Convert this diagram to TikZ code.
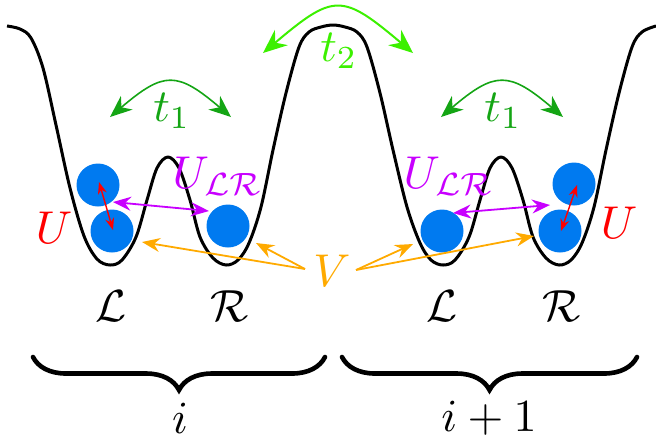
\documentclass[tikz,border=0pt]{standalone}
\usetikzlibrary{arrows.meta,decorations.pathreplacing}
\definecolor{ballblue}{RGB}{0,122,240}
\definecolor{uRed}{RGB}{255,0,0}
\definecolor{uPurple}{RGB}{200,0,255}
\definecolor{tOneGreen}{RGB}{20,165,20}
\definecolor{tTwoGreen}{RGB}{60,240,0}
\definecolor{vOrange}{RGB}{255,170,0}
\newcommand\biglbl[1]{\scalebox{2.3}{#1}}
\newcommand\sitelbl[1]{\scalebox{2.25}{#1}}
\begin{document}
\begin{tikzpicture}[x=0.5pt,y=-0.5pt,
  ball/.style={circle,fill=ballblue,inner sep=0pt,minimum size=21.5pt},
  lab/.style={inner sep=0pt},
  potential/.style={line width=1.5pt,line join=round},
  hopone/.style={draw=tOneGreen,line width=0.8pt,{Stealth[length=11pt,width=9pt,inset=3.5pt]}-{Stealth[length=11pt,width=9pt,inset=3.5pt]}},
  hoptwo/.style={draw=tTwoGreen,line width=1pt,{Stealth[length=12pt,width=10pt,inset=4pt]}-{Stealth[length=12pt,width=10pt,inset=4pt]}},
  onsite/.style={draw=uRed,line width=0.7pt,{Stealth[length=6pt,width=4.5pt,inset=2pt]}-{Stealth[length=6pt,width=4.5pt,inset=2pt]}},
  intra/.style={draw=uPurple,line width=0.9pt,{Stealth[length=9pt,width=7pt,inset=3pt]}-{Stealth[length=9pt,width=7pt,inset=3pt]}},
  inter/.style={draw=vOrange,line width=0.9pt,-{Stealth[length=9pt,width=7pt,inset=3pt]}},
  bracestyle/.style={line width=2.3pt,line cap=round,decorate,decoration={brace,mirror,amplitude=16.5pt}}
]
\useasboundingbox (0,0) rectangle (656,441);

% potential landscape
\draw[potential] plot[smooth,tension=0.55] coordinates {
 (7,26) (20,29) (31,38) (43,68) (56,125) (70,188) (84,236) (97,259) (110,265)
 (122,260) (136,237) (147,200) (157,168) (168,157) (179,168) (190,200) (200,237) (213,258) (226,265)
 (238,260) (249,243) (261,207) (273,150) (286,93) (299,47) (309,32) (321,27) (333,25)
 (345,27) (357,32) (367,47) (380,93) (393,150) (407,207) (420,243) (431,260) (443,265)
 (455,260) (469,237) (480,200) (490,168) (501,157) (512,168) (523,200) (533,237) (546,258) (559,265)
 (571,260) (582,243) (594,207) (606,150) (619,93) (632,47) (642,32) (656,26)};

% particles
\node[ball] (la) at (98,185) {};
\node[ball] (lb) at (112,231) {};
\node[ball] (lc) at (228,226) {};
\node[ball] (ra) at (442,231) {};
\node[ball] (rb) at (574,184) {};
\node[ball] (rc) at (560,231) {};

% labels
\node[lab,text=tOneGreen] (t1l) at (172,111) {\biglbl{$t_1$}};
\node[lab,text=tOneGreen] (t1r) at (503,111) {\biglbl{$t_1$}};
\node[lab,text=tTwoGreen] (t2) at (339,51) {\biglbl{$t_2$}};
\node[lab,text=uRed] (ul) at (54,228) {\biglbl{$U$}};
\node[lab,text=uRed] (ur) at (619,223) {\biglbl{$U$}};
\node[lab,text=uPurple] (ulrl) at (218,176) {\biglbl{$U_{\mathcal{L}\mathcal{R}}$}};
\node[lab,text=uPurple] (ulrr) at (449,176) {\biglbl{$U_{\mathcal{L}\mathcal{R}}$}};
\node[lab,text=vOrange] (v) at (332,271) {\biglbl{$V$}};
\node[lab] (sLl) at (111,306) {\sitelbl{$\mathcal{L}$}};
\node[lab] (sRl) at (230,306) {\sitelbl{$\mathcal{R}$}};
\node[lab] (sLr) at (442,306) {\sitelbl{$\mathcal{L}$}};
\node[lab] (sRr) at (562,306) {\sitelbl{$\mathcal{R}$}};
\node[lab] (ci) at (180,418) {\biglbl{$i$}};
\node[lab] (cii) at (489,418) {\biglbl{$i+1$}};

% arrow end points
\coordinate (a1s) at (110,117); \coordinate (a1e) at (231,117);
\coordinate (a2s) at (441,117); \coordinate (a2e) at (563,117);
\coordinate (a3s) at (263,53);  \coordinate (a3e) at (413,53);
\coordinate (u1s) at (99,182);  \coordinate (u1e) at (113,230);
\coordinate (u2s) at (577,185); \coordinate (u2e) at (561,231);
\coordinate (p1s) at (113,202); \coordinate (p1e) at (209,211);
\coordinate (p2s) at (453,213); \coordinate (p2e) at (550,205);
\coordinate (vl) at (305,269);  \coordinate (vr) at (356,270);
\coordinate (v1) at (142,242);  \coordinate (v2) at (256,243);
\coordinate (v3) at (413,244);  \coordinate (v4) at (534,236);

% hopping arrows
\draw[hopone] (a1s) .. controls (164,71) and (177,71) .. (a1e);
\draw[hopone] (a2s) .. controls (495,71) and (509,71) .. (a2e);
\draw[hoptwo] (a3s) .. controls (334,-7) and (342,-7) .. (a3e);
% interactions
\draw[onsite] (u1s) -- (u1e);
\draw[onsite] (u2s) -- (u2e);
\draw[intra] (p1s) -- (p1e);
\draw[intra] (p2s) -- (p2e);
\draw[inter] (vl) -- (v1);
\draw[inter] (vl) -- (v2);
\draw[inter] (vr) -- (v3);
\draw[inter] (vr) -- (v4);

% unit cell braces
\coordinate (b1s) at (33,357); \coordinate (b1e) at (325,357);
\coordinate (b2s) at (342,357); \coordinate (b2e) at (637,357);
\draw[bracestyle] (b1s) -- (b1e);
\draw[bracestyle] (b2s) -- (b2e);
\end{tikzpicture}
\end{document}
